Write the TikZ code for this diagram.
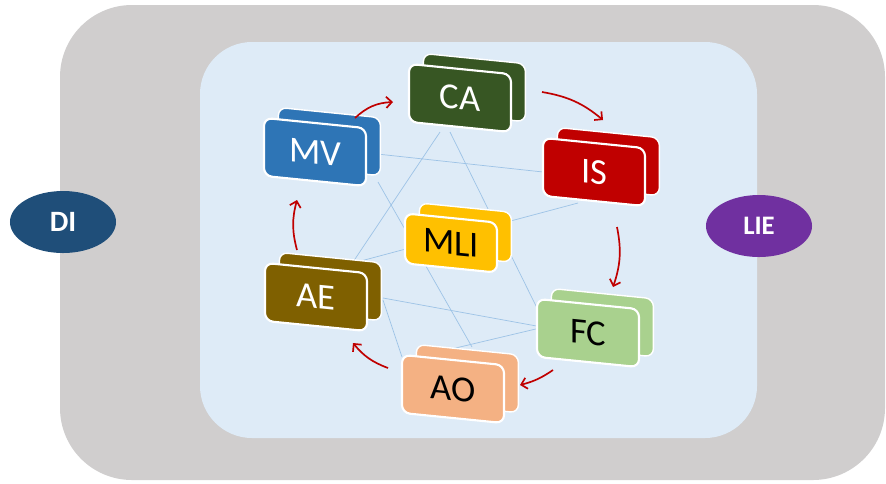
\documentclass[tikz,border=0pt]{standalone}
\usepackage{fontspec}
\setmainfont{Carlito}
\usetikzlibrary{arrows.meta}
\usetikzlibrary{shapes.geometric}
\usetikzlibrary{shadows}
\usetikzlibrary{calc}

\definecolor{cGrey}{HTML}{D0CECE}
\definecolor{cPanel}{HTML}{DEEBF7}
\definecolor{cDI}{HTML}{1F4E79}
\definecolor{cLIE}{HTML}{7030A0}
\definecolor{cMV}{HTML}{2E75B6}
\definecolor{cCA}{HTML}{375623}
\definecolor{cIS}{HTML}{C00000}
\definecolor{cMLI}{HTML}{FFC000}
\definecolor{cAE}{HTML}{7F6000}
\definecolor{cFC}{HTML}{A9D18E}
\definecolor{cAO}{HTML}{F4B183}
\definecolor{cArrow}{HTML}{C00000}
\definecolor{cLink}{HTML}{9DC3E6}

\pgfdeclarelayer{bg}
\pgfdeclarelayer{links}
\pgfsetlayers{bg,links,main}

\begin{document}
\begin{tikzpicture}[x=0.025cm, y=0.025cm,
    blok/.style={fill=#1, draw=white, line width=1.5pt, rounded corners=0.2cm,
        minimum width=2.55cm, minimum height=1.45cm, yslant=-0.1,
        font=\fontsize{26}{28}\selectfont,
        general shadow={fill=#1, draw=white, line width=1pt, shadow xshift=0.36cm, shadow yshift=0.26cm}},
    ovalnode/.style={ellipse, fill=#1, text=white, minimum width=2.65cm, minimum height=1.55cm,
        inner sep=0pt, font=\bfseries\fontsize{21}{23}\selectfont},
    link/.style={cLink, line width=0.5pt},
    cyc/.style={cArrow, line width=1.2pt, -{Straight Barb[length=4pt, width=8pt]}}]
    \useasboundingbox (0,0) rectangle (886,-483);
    \begin{pgfonlayer}{bg}
        \fill[cGrey, rounded corners=1.8cm] (60,-5) rectangle (885,-480);
        \fill[cPanel, rounded corners=1.3cm] (200,-42) rectangle (757,-438);
    \end{pgfonlayer}

    \node[blok=cCA, text=white] (CA) at (460,-98) {CA};
    \node[blok=cMV, text=white] (MV) at (315,-152) {MV};
    \node[blok=cIS, text=white] (IS) at (594,-172) {IS};
    \node[blok=cMLI, minimum width=2.3cm, minimum height=1.25cm] (MLI) at (451,-243) {MLI};
    \node[blok=cAE, text=white] (AE) at (316,-297) {AE};
    \node[blok=cFC] (FC) at (588,-333) {FC};
    \node[blok=cAO] (AO) at (453,-389) {AO};
    \node[ovalnode=cDI] (DI) at (63,-222) {DI};
    \node[ovalnode=cLIE, font=\bfseries\fontsize{19}{21}\selectfont] (LIE) at (759,-226) {LIE};

    % thin links behind the blocks
    \begin{pgfonlayer}{links}
        \draw[link] ($(MV)+(53,-1)$) -- ($(IS)+(-51,0)$);
        \draw[link] ($(CA)+(-20,-34)$) -- ($(AE)+(37,35)$);
        \draw[link] ($(CA)+(-10,-34)$) -- ($(FC)+(-50,23)$);
        \draw[link] ($(MV)+(63,-30)$) -- ($(AO)+(19,42)$);
        \draw[link] ($(IS)+(-16,-31)$) -- ($(AE)+(41,35)$);
        \draw[link] ($(AE)+(67,-1)$) -- ($(FC)+(-46,6)$);
        \draw[link] ($(AE)+(67,-3)$) -- ($(AO)+(-51,32)$);
        \draw[link] ($(FC)+(-48,5)$) -- ($(AO)+(-48,29)$);
    \end{pgfonlayer}

    % cycle
    \draw[cyc] ($(MV)+(40,34)$) to[bend left=20] ($(CA)+(-67,-4)$);
    \draw[cyc] ($(CA)+(82,6)$) to[bend left=15] ($(IS)+(9,52)$);
    \draw[cyc] ($(IS)+(23,-55)$) to[bend left=15] ($(FC)+(25,46)$);
    \draw[cyc] ($(FC)+(-35,-37)$) to[bend left=10] ($(AO)+(67,4)$);
    \draw[cyc] ($(AO)+(-65,21)$) to[bend left=15] ($(AE)+(37,-46)$);
    \draw[cyc] ($(AE)+(-19,47)$) to[bend left=15] ($(MV)+(-18,-48)$);
\end{tikzpicture}
\end{document}
